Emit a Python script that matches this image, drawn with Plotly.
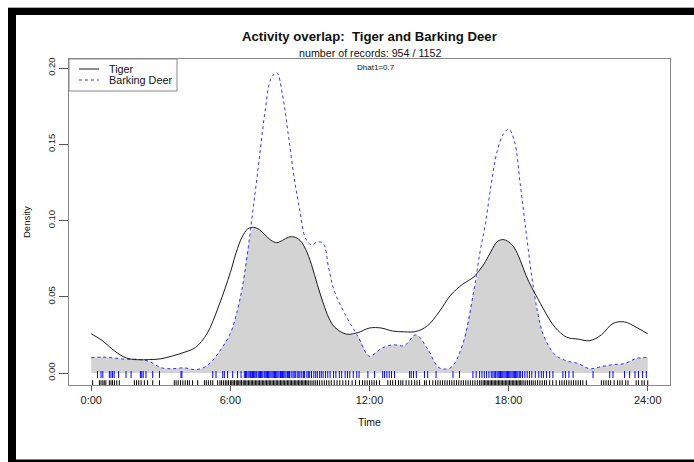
import plotly.graph_objects as go

# Kernel density estimates (per hour) on a shared time grid
hours = [0, 0.5, 1, 1.5, 2, 2.5, 3, 3.5, 4, 4.5, 5, 5.5, 6, 6.25, 6.5, 6.75,
         7, 7.25, 7.5, 7.75, 8, 8.25, 8.5, 8.75, 9, 9.25, 9.5, 9.75, 10, 10.25,
         10.5, 11, 11.5, 12, 12.5, 13, 13.5, 14, 14.5, 15, 15.5, 16, 16.5, 16.75,
         17, 17.25, 17.5, 17.75, 18, 18.25, 18.5, 18.75, 19, 19.25, 19.5, 20,
         20.5, 21, 21.5, 22, 22.5, 23, 23.5, 24]

tiger_density = [0.0257, 0.0210, 0.0145, 0.0099, 0.0087, 0.0088, 0.0093, 0.0112,
                 0.0135, 0.0168, 0.0260, 0.0440, 0.0660, 0.0790, 0.0890, 0.0945,
                 0.0955, 0.0940, 0.0905, 0.0870, 0.0855, 0.0870, 0.0890, 0.0892,
                 0.0870, 0.0810, 0.0710, 0.0580, 0.0460, 0.0360, 0.0300, 0.0255,
                 0.0265, 0.0295, 0.0295, 0.0275, 0.0270, 0.0272, 0.0310, 0.0400,
                 0.0510, 0.0580, 0.0630, 0.0675, 0.0730, 0.0800, 0.0860, 0.0875,
                 0.0860, 0.0820, 0.0740, 0.0640, 0.0560, 0.0490, 0.0420, 0.0300,
                 0.0235, 0.0222, 0.0212, 0.0250, 0.0325, 0.0335, 0.0300, 0.0257]

deer_density = [0.0101, 0.0104, 0.0098, 0.0090, 0.0090, 0.0076, 0.0035, 0.0028,
                0.0034, 0.0022, 0.0048, 0.0135, 0.0260, 0.0380, 0.0550, 0.0800,
                0.1100, 0.1410, 0.1720, 0.1930, 0.1970, 0.1820, 0.1560, 0.1280,
                0.1060, 0.0880, 0.0840, 0.0860, 0.0850, 0.0680, 0.0530, 0.0370,
                0.0240, 0.0110, 0.0160, 0.0185, 0.0180, 0.0250, 0.0160, 0.0035,
                0.0035, 0.0180, 0.0540, 0.0780, 0.0980, 0.1240, 0.1450, 0.1560,
                0.1600, 0.1520, 0.1240, 0.0930, 0.0630, 0.0400, 0.0250, 0.0120,
                0.0080, 0.0062, 0.0028, 0.0042, 0.0055, 0.0062, 0.0095, 0.0102]

# Record times (hours) shown as rugs under the curves
tiger_times = [
    0.06, 0.35, 0.42, 0.5, 0.56, 0.63, 0.78, 0.85, 0.92, 1.0, 1.1, 1.21, 1.86,
    1.95, 2.05, 2.15, 2.29, 2.43, 2.65, 2.94, 3.58, 3.66, 3.75, 3.85, 3.95, 4.05,
    4.15, 4.23, 4.37, 4.59, 4.88, 4.96, 5.05, 5.15, 5.24, 5.45, 5.55, 5.62, 5.7,
    5.78, 5.85, 5.92, 6.0, 6.06, 6.12, 6.18, 6.25, 6.3, 6.36, 6.42, 6.48, 6.55,
    6.6, 6.66, 6.72, 6.78, 6.84, 6.9, 6.96, 7.02, 7.08, 7.14, 7.2, 7.26, 7.32,
    7.38, 7.44, 7.5, 7.56, 7.62, 7.68, 7.74, 7.8, 7.86, 7.92, 7.98, 8.04, 8.1,
    8.16, 8.22, 8.28, 8.34, 8.4, 8.46, 8.52, 8.58, 8.64, 8.7, 8.76, 8.82, 8.88,
    8.94, 9.0, 9.06, 9.12, 9.18, 9.24, 9.3, 9.36, 9.44, 9.52, 9.6, 9.68, 9.76,
    9.85, 9.95, 10.05, 10.15, 10.25, 10.35, 10.48, 10.6, 10.72, 10.85, 10.98,
    11.1, 11.25, 11.4, 11.57, 11.7, 11.8, 11.9, 12.0, 12.1, 12.2, 12.3, 12.43,
    12.79, 12.9, 13.0, 13.12, 13.25, 13.35, 13.44, 13.58, 13.7, 13.82, 13.95,
    14.05, 14.16, 14.37, 14.45, 14.59, 14.73, 14.85, 14.95, 15.05, 15.15, 15.25,
    15.35, 15.45, 15.55, 15.65, 15.75, 15.85, 15.95, 16.05, 16.15, 16.25, 16.35,
    16.45, 16.55, 16.65, 16.75, 16.82, 16.9, 16.96, 17.02, 17.08, 17.14, 17.2,
    17.26, 17.32, 17.38, 17.44, 17.5, 17.56, 17.62, 17.68, 17.74, 17.8, 17.86,
    17.92, 17.98, 18.04, 18.1, 18.16, 18.22, 18.28, 18.34, 18.4, 18.46, 18.52,
    18.58, 18.66, 18.74, 18.82, 18.9, 18.98, 19.06, 19.15, 19.25, 19.35, 19.45,
    19.55, 19.63, 19.77, 19.9, 20.05, 20.2, 20.3, 20.4, 20.5, 20.6, 20.7, 20.8,
    20.9, 21.0, 21.1, 21.2, 21.35, 22.0, 22.1, 22.2, 22.3, 22.4, 22.55, 22.7,
    22.8, 22.9, 23.05, 23.15, 23.5, 23.6, 23.75, 23.85, 24.0]

deer_times = [
    0.27, 0.42, 0.5, 0.78, 0.85, 0.92, 0.99, 1.18, 1.5, 1.72, 2.12, 2.18, 2.24,
    2.36, 2.65, 2.94, 3.87, 3.91, 5.24, 5.38, 5.67, 5.74, 5.88, 6.1, 6.31, 6.46,
    6.6, 6.65, 6.7, 6.76, 6.81, 6.86, 6.9, 6.95, 7.0, 7.05, 7.1, 7.14, 7.2, 7.25,
    7.3, 7.35, 7.4, 7.46, 7.5, 7.55, 7.6, 7.64, 7.7, 7.75, 7.8, 7.85, 7.9, 7.95,
    8.0, 8.05, 8.1, 8.16, 8.2, 8.25, 8.3, 8.35, 8.4, 8.46, 8.5, 8.55, 8.62, 8.7,
    8.75, 8.8, 8.88, 8.95, 9.0, 9.08, 9.15, 9.2, 9.3, 9.36, 9.42, 9.5, 9.6, 9.68,
    9.75, 9.85, 9.92, 10.0, 10.1, 10.2, 10.3, 10.45, 10.55, 10.7, 10.8, 10.95,
    11.05, 11.15, 11.3, 11.45, 11.55, 11.93, 12.22, 12.57, 12.65, 12.75, 12.85,
    12.95, 13.08, 13.73, 13.8, 13.9, 14.02, 14.37, 14.51, 14.87, 15.6, 15.88,
    16.46, 16.6, 16.75, 16.85, 16.95, 17.05, 17.15, 17.25, 17.32, 17.38, 17.44,
    17.5, 17.55, 17.6, 17.65, 17.7, 17.75, 17.8, 17.85, 17.9, 17.95, 18.0, 18.05,
    18.1, 18.15, 18.2, 18.25, 18.3, 18.35, 18.4, 18.46, 18.52, 18.6, 18.7, 18.8,
    18.9, 19.0, 19.15, 19.3, 19.41, 19.5, 19.63, 19.77, 19.91, 20.34, 20.45,
    20.6, 20.78, 21.64, 22.36, 22.5, 23.0, 23.22, 23.45, 23.6, 23.78, 23.94]

hour_ticks = [0, 6, 12, 18, 24]
hour_labels = ["0:00", "6:00", "12:00", "18:00", "24:00"]
density_ticks = [0.0, 0.05, 0.10, 0.15, 0.20]

title_text = "Activity overlap:\u00a0 Tiger and Barking Deer"
subtitle_text = "number of records: 954 / 1152"
dhat_text = "Dhat1=0.7"
series_names = ["Tiger", "Barking Deer"]

FONT = "Liberation Sans, Arial, sans-serif"
TIGER_COL = "#1a1a1a"
DEER_COL = "rgba(0,0,255,0.8)"
RUG_BLUE = "#0000ff"
RUG_BLACK = "#000000"

# area shared by both activity curves
overlap_floor = [min(a, b) for a, b in zip(tiger_density, deer_density)]

fig = go.Figure()

fig.add_trace(go.Scatter(
    x=hours, y=overlap_floor, mode="lines", fill="tozeroy",
    fillcolor="#d3d3d3", line=dict(width=0, shape="spline"),
    hoverinfo="skip", showlegend=False))

fig.add_trace(go.Scatter(
    x=hours, y=tiger_density, mode="lines", name=series_names[0],
    line=dict(color=TIGER_COL, width=1, shape="spline"), showlegend=False))

fig.add_trace(go.Scatter(
    x=hours, y=deer_density, mode="lines", name=series_names[1],
    line=dict(color=DEER_COL, width=1, dash="3px,3px", shape="spline"),
    showlegend=False))

# rugs
fig.add_trace(go.Scatter(
    x=deer_times, y=[-0.001] * len(deer_times), mode="markers",
    marker=dict(symbol="line-ns-open", size=5, color=RUG_BLUE,
                line=dict(color=RUG_BLUE, width=1)),
    hoverinfo="x", showlegend=False))

fig.add_trace(go.Scatter(
    x=tiger_times, y=[-0.0066] * len(tiger_times), mode="markers",
    marker=dict(symbol="line-ns-open", size=4, color=RUG_BLACK,
                line=dict(color=RUG_BLACK, width=1)),
    hoverinfo="x", showlegend=False))

W, H = 694, 462
L, R, T, B = 69, 24, 59, 77
PW, PH = W - L - R, H - T - B


def px(xp):
    return (xp - L) / PW


def py(yp):
    return (H - B - yp) / PH


shapes = [
    # outer frame bands
    dict(type="rect", xref="paper", yref="paper", x0=px(8), x1=px(16),
         y0=py(462), y1=py(8), fillcolor="black", line=dict(width=0)),
    dict(type="rect", xref="paper", yref="paper", x0=px(8), x1=px(694),
         y0=py(15), y1=py(8), fillcolor="black", line=dict(width=0)),
    dict(type="rect", xref="paper", yref="paper", x0=px(8), x1=px(694),
         y0=py(462), y1=py(459.5), fillcolor="black", line=dict(width=0)),
    dict(type="line", xref="paper", yref="paper", x0=px(8), x1=px(694),
         y0=py(7.5), y1=py(7.5), line=dict(color="#aaaaaa", width=1)),
    # legend box and keys
    dict(type="rect", xref="paper", yref="paper", x0=0, x1=px(177),
         y0=py(91), y1=1, fillcolor="white", line=dict(color="#888888", width=1)),
    dict(type="line", xref="paper", yref="paper", x0=px(79), x1=px(99),
         y0=py(69), y1=py(69), line=dict(color=TIGER_COL, width=1)),
    dict(type="line", xref="paper", yref="paper", x0=px(79), x1=px(99),
         y0=py(80), y1=py(80), line=dict(color=DEER_COL, width=1, dash="3px,3px")),
]

annotations = [
    dict(text="<b>" + title_text + "</b>", xref="paper", yref="paper",
         x=0.5, y=py(36.5), xanchor="center", yanchor="middle", showarrow=False,
         font=dict(family=FONT, size=13.2, color="#111111")),
    dict(text=subtitle_text, xref="paper", yref="paper",
         x=0.5, y=py(53.5), xanchor="center", yanchor="middle", showarrow=False,
         font=dict(family=FONT, size=10.7, color="#111111")),
    dict(text=dhat_text, xref="paper", yref="paper",
         x=px(376), y=py(68), xanchor="center", yanchor="middle", showarrow=False,
         font=dict(family=FONT, size=8, color="#111111")),
    dict(text=series_names[0], xref="paper", yref="paper",
         x=px(107), y=py(69), xanchor="left", yanchor="middle", showarrow=False,
         font=dict(family=FONT, size=10.8, color="#111111")),
    dict(text=series_names[1], xref="paper", yref="paper",
         x=px(107), y=py(80), xanchor="left", yanchor="middle", showarrow=False,
         font=dict(family=FONT, size=10.8, color="#111111")),
    dict(text="Time", xref="paper", yref="paper",
         x=0.5, y=py(422), xanchor="center", yanchor="middle", showarrow=False,
         font=dict(family=FONT, size=10.5, color="#111111")),
    dict(text="Density", xref="paper", yref="paper", textangle=-90,
         x=px(26), y=0.5, xanchor="center", yanchor="middle", showarrow=False,
         font=dict(family=FONT, size=9.5, color="#111111")),
]

fig.update_layout(
    width=W, height=H,
    margin=dict(l=L, r=R, t=T, b=B, pad=0),
    paper_bgcolor="white", plot_bgcolor="white",
    shapes=shapes, annotations=annotations,
    showlegend=False,
    xaxis=dict(range=[-0.96, 24.96], tickvals=hour_ticks, ticktext=hour_labels,
               ticks="outside", ticklen=5, tickcolor="#555555", tickwidth=1,
               showline=True, linecolor="#888888", linewidth=1, mirror=True,
               showgrid=False, zeroline=False,
               tickfont=dict(family=FONT, size=11, color="#222222")),
    yaxis=dict(range=[-0.00787, 0.2059], tickvals=density_ticks,
               tickformat=".2f", tickangle=-90,
               ticks="outside", ticklen=9, tickcolor="#555555", tickwidth=1,
               showline=True, linecolor="#888888", linewidth=1, mirror=True,
               showgrid=False, zeroline=False,
               tickfont=dict(family=FONT, size=9.5, color="#222222")),
)

fig.write_html("out.html")
